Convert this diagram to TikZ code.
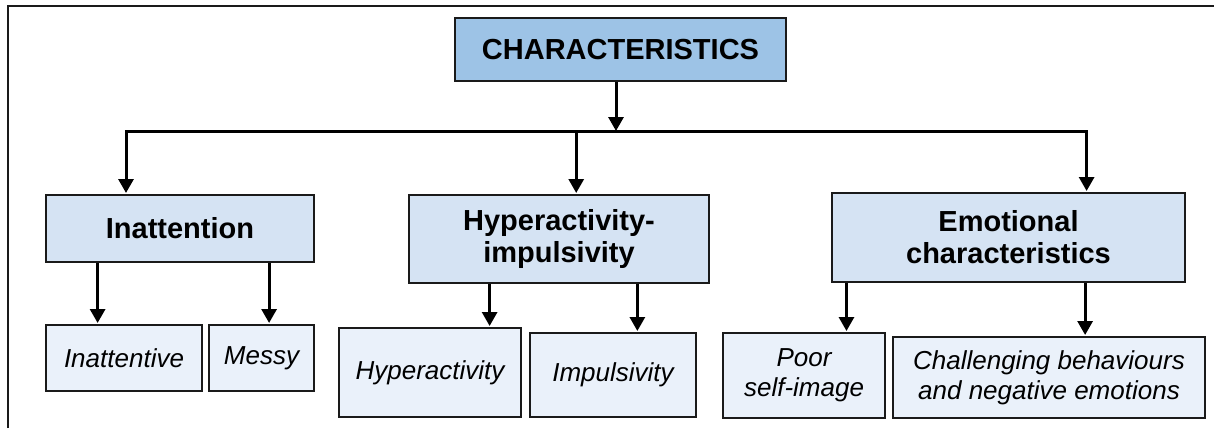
\documentclass[tikz,border=0pt]{standalone}
\usepackage{fontspec}
\setmainfont{Liberation Sans}
\newfontfamily\leaffont{Liberation Sans}
\usetikzlibrary{arrows.meta,calc}

\definecolor{topfill}{HTML}{9DC3E6}
\definecolor{midfill}{HTML}{D5E3F3}
\definecolor{leaffill}{HTML}{EAF1FA}
\definecolor{edgegray}{HTML}{1A1A1A}

\tikzset{
  box/.style={draw=edgegray, line width=2pt, rectangle, inner sep=0pt, align=center},
  topbox/.style={box, fill=topfill, font=\bfseries\fontsize{29}{32}\selectfont},
  midbox/.style={box, fill=midfill, font=\bfseries\fontsize{29}{32}\selectfont},
  leafbox/.style={box, fill=leaffill, font=\leaffont\itshape\fontsize{26}{30}\selectfont},
  conn/.style={draw=black, line width=3pt},
  arr/.style={conn, -{Triangle[length=14pt,width=15pt]}, shorten >=1pt},
  frameline/.style={draw=edgegray, line width=2pt}
}

\begin{document}
\begin{tikzpicture}[x=1pt,y=-1pt]
\useasboundingbox (0,0) rectangle (1214,428);

% outer frame (top and left edges)
\coordinate (fr0) at (7.5,428);
\coordinate (fr1) at (7.5,6);
\coordinate (fr2) at (1214,6);
\draw[frameline] (fr0) -- (fr1) -- (fr2);

% root
\node[topbox, minimum width=331pt, minimum height=63pt] (chars) at (620.5,49.5) {CHARACTERISTICS};

% categories
\node[midbox, minimum width=268pt, minimum height=67pt] (inatt) at (180,228.5) {Inattention};
\node[midbox, minimum width=300pt, minimum height=88pt] (hyper) at (559,239) {Hyperactivity-\\impulsivity};
\node[midbox, minimum width=353pt, minimum height=89pt] (emo) at (1008.5,237.5) {Emotional\\characteristics};

% leaves
\node[leafbox, minimum width=156pt, minimum height=66pt] (inattv) at (124,358) {Inattentive};
\node[leafbox, minimum width=105pt, minimum height=66pt] (messy) at (261.5,358) {Messy};
\node[leafbox, minimum width=182pt, minimum height=89pt] (hypact) at (430,372.5) {Hyperactivity};
\node[leafbox, minimum width=166pt, minimum height=84pt] (impul) at (613,375) {Impulsivity};
\node[leafbox, minimum width=162pt, minimum height=85pt] (poor) at (804,375.5) {Poor\\self-image};
\node[leafbox, minimum width=312pt, minimum height=81pt] (chall) at (1049,377.5) {Challenging behaviours\\and negative emotions};

% root to bus
\coordinate (bus) at ([xshift=-4.5pt]chars.south |- 0,131);
\draw[arr, shorten >=0pt] ([xshift=-4.5pt]chars.south) -- (bus);

% bus to categories
\coordinate (c1) at ($(inatt.north west)!0.3!(inatt.north east)$);
\coordinate (c2) at ($(hyper.north west)!0.557!(hyper.north east)$);
\coordinate (c3) at ($(emo.north west)!0.72!(emo.north east)$);
\draw[arr] (bus) -| (c1);
\draw[arr] (bus) -| (c3);
\draw[arr] (bus -| c2) -- (c2);

% categories to leaves
\coordinate (l1) at ($(inattv.north west)!0.333!(inattv.north east)$);
\coordinate (l2) at ($(messy.north west)!0.571!(messy.north east)$);
\coordinate (l3) at ($(hypact.north west)!0.824!(hypact.north east)$);
\coordinate (l4) at ($(impul.north west)!0.645!(impul.north east)$);
\coordinate (l5) at ($(poor.north west)!0.759!(poor.north east)$);
\coordinate (l6) at ($(chall.north west)!0.615!(chall.north east)$);
\draw[arr] (inatt.south -| l1) -- (l1);
\draw[arr] (inatt.south -| l2) -- (l2);
\draw[arr] (hyper.south -| l3) -- (l3);
\draw[arr] (hyper.south -| l4) -- (l4);
\draw[arr] (emo.south -| l5) -- (l5);
\draw[arr] (emo.south -| l6) -- (l6);
\end{tikzpicture}
\end{document}
